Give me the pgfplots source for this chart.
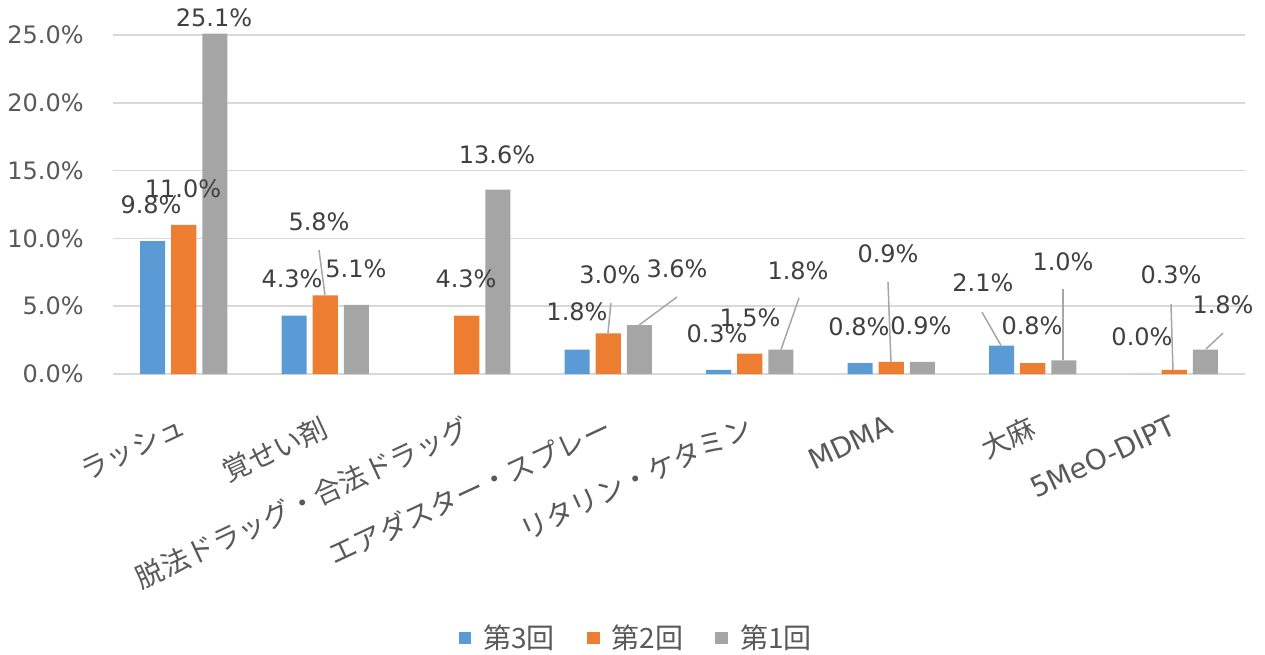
\documentclass[border=0pt]{standalone}
\usepackage{fontspec}
\usepackage{pgfplots}
\pgfplotsset{compat=1.18}
\setmainfont{DejaVu Sans}
\newfontfamily\cjk{Noto Sans CJK JP}
\definecolor{cBlue}{HTML}{5B9BD5}
\definecolor{cOrange}{HTML}{ED7D31}
\definecolor{cGray}{HTML}{A5A5A5}
\definecolor{cGrid}{HTML}{D9D9D9}
\definecolor{cTick}{HTML}{595959}
\definecolor{cLab}{HTML}{404040}
\definecolor{cLead}{HTML}{A6A6A6}
\begin{document}
\begin{tikzpicture}
\useasboundingbox (-56.5pt,-140pt) rectangle (576pt,187pt);
\begin{axis}[
  scale only axis,
  width=566pt, height=169.5pt,
  xmin=-0.5, xmax=7.5,
  ymin=0, ymax=25,
  clip=false,
  axis line style={draw=none},
  major tick length=0pt,
  ymajorgrids,
  grid style={cGrid, line width=0.75pt},
  ytick={0,5,10,15,20,25},
  yticklabels={0.0\%,5.0\%,10.0\%,15.0\%,20.0\%,25.0\%},
  yticklabel style={font=\fontsize{12}{14}\selectfont, text=cTick, anchor=east, inner sep=0pt, xshift=-14.5pt},
  xtick={0,1,2,3,4,5,6,7},
  xticklabels={{\cjk ラッシュ},{\cjk 覚せい剤},{\cjk 脱法ドラッグ・合法ドラッグ},{\cjk エアダスター・スプレー},{\cjk リタリン・ケタミン},MDMA,{\cjk 大麻},5MeO-DIPT},
  xticklabel style={font=\fontsize{14}{16}\selectfont, text=cTick, rotate=25, anchor=north east, inner sep=0pt, yshift=-17pt, xshift=-10.5pt},
  legend style={draw=none, fill=none, legend columns=3, at={(0.463,-0.779)}, anchor=center,
    font=\fontsize{14}{16}\selectfont\cjk, text=cTick,
    /tikz/every odd column/.append style={column sep=4pt},
    /tikz/every even column/.append style={column sep=14pt}},
  legend image code/.code={\fill[#1] (0pt,-3.2pt) rectangle (6.4pt,3.2pt);},
]
\addplot[ybar, bar width=0.177, bar shift=-0.22, fill=cBlue, draw=none] coordinates {(0,9.8)(1,4.3)(3,1.8)(4,0.3)(5,0.8)(6,2.1)(7,0.0)};
\addlegendentry{第3回}
\addplot[ybar, bar width=0.177, bar shift=0, fill=cOrange, draw=none] coordinates {(0,11.0)(1,5.8)(2,4.3)(3,3.0)(4,1.5)(5,0.9)(6,0.8)(7,0.3)};
\addlegendentry{第2回}
\addplot[ybar, bar width=0.177, bar shift=0.22, fill=cGray, draw=none] coordinates {(0,25.1)(1,5.1)(2,13.6)(3,3.6)(4,1.8)(5,0.9)(6,1.0)(7,1.8)};
\addlegendentry{第1回}
% leader lines
\draw[cLead, line width=0.75pt] (axis cs:0.956,9.14) -- (axis cs:0.998,5.83);
\draw[cLead, line width=0.75pt] (axis cs:3.019,5.24) -- (axis cs:2.998,3.02);
\draw[cLead, line width=0.75pt] (axis cs:3.486,5.68) -- (axis cs:3.217,3.6);
\draw[cLead, line width=0.75pt] (axis cs:4.348,5.60) -- (axis cs:4.221,1.8);
\draw[cLead, line width=0.75pt] (axis cs:4.977,6.78) -- (axis cs:4.998,0.9);
\draw[cLead, line width=0.75pt] (axis cs:5.641,4.57) -- (axis cs:5.776,2.1);
\draw[cLead, line width=0.75pt] (axis cs:6.214,6.27) -- (axis cs:6.214,1.0);
\draw[cLead, line width=0.75pt] (axis cs:6.977,5.16) -- (axis cs:6.991,0.3);
\draw[cLead, line width=0.75pt] (axis cs:7.345,3.02) -- (axis cs:7.224,1.84);
% data labels
\begin{scope}[every node/.style={font=\fontsize{12}{14}\selectfont, text=cLab, inner sep=0pt}]
\node at (axis cs:-0.231,12.46) {9.8\%};
\node at (axis cs:-0.005,13.64) {11.0\%};
\node at (axis cs:0.214,26.25) {25.1\%};
\node at (axis cs:0.765,7.01) {4.3\%};
\node at (axis cs:0.956,11.21) {5.8\%};
\node at (axis cs:1.217,7.74) {5.1\%};
\node at (axis cs:1.995,7.01) {4.3\%};
\node at (axis cs:2.214,16.15) {13.6\%};
\node at (axis cs:2.779,4.57) {1.8\%};
\node at (axis cs:3.012,7.30) {3.0\%};
\node at (axis cs:3.486,7.74) {3.6\%};
\node at (axis cs:3.769,2.95) {0.3\%};
\node at (axis cs:4.002,4.13) {1.5\%};
\node at (axis cs:4.341,7.60) {1.8\%};
\node at (axis cs:4.772,3.47) {0.8\%};
\node at (axis cs:4.977,8.85) {0.9\%};
\node at (axis cs:5.210,3.54) {0.9\%};
\node at (axis cs:5.648,6.71) {2.1\%};
\node at (axis cs:5.995,3.54) {0.8\%};
\node at (axis cs:6.214,8.26) {1.0\%};
\node at (axis cs:6.772,2.73) {0.0\%};
\node at (axis cs:6.977,7.30) {0.3\%};
\node at (axis cs:7.345,5.09) {1.8\%};
\end{scope}
\end{axis}
\end{tikzpicture}
\end{document}
